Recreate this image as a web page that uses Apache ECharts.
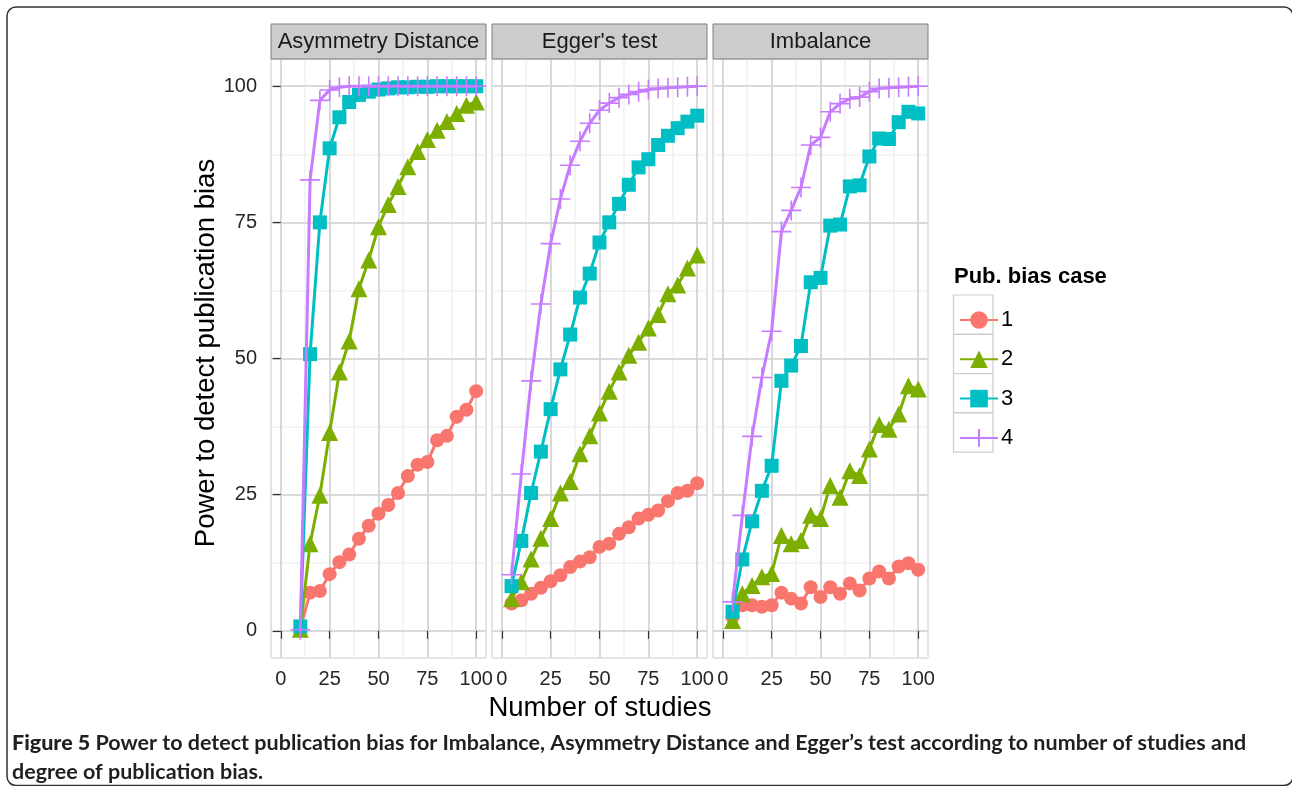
<!DOCTYPE html>
<html>
<head>
<meta charset="utf-8">
<script src="https://cdn.jsdelivr.net/npm/echarts@6/dist/echarts.min.js"></script>
<style>
html,body{margin:0;padding:0;background:#fff;}
#chart{width:1292px;height:786px;}
</style>
</head>
<body>
<div id="chart"></div>
<script>
// ---------- data ----------
const panels = ['Asymmetry Distance', "Egger's test", 'Imbalance'];
const caseNames = ['1', '2', '3', '4'];
const xTickValues = [0, 25, 50, 75, 100];
const yTickValues = [0, 25, 50, 75, 100];

const studiesAD = [10,15,20,25,30,35,40,45,50,55,60,65,70,75,80,85,90,95,100];
const studies = [5,10,15,20,25,30,35,40,45,50,55,60,65,70,75,80,85,90,95,100];

// Asymmetry Distance
const ad_case1 = [0.4,7.0,7.3,10.4,12.6,14.0,16.9,19.3,21.5,23.1,25.3,28.4,30.5,31.0,35.0,35.8,39.3,40.6,44.0];
const ad_case2 = [0.3,16.0,24.9,36.4,47.5,53.2,62.8,68.1,74.2,78.3,81.6,85.2,88.0,90.2,91.9,93.5,95.0,96.5,97.1];
const ad_case3 = [0.8,50.8,75.0,88.6,94.3,97.1,98.4,99.0,99.4,99.6,99.8,99.8,99.9,99.9,100,100,100,100,100];
const ad_case4 = [0.2,82.8,97.4,99.3,99.8,100,100,100,100,100,100,100,100,100,100,100,100,100,100];

// Egger's test
const eg_case1 = [5.0,5.6,6.8,7.9,9.1,10.2,11.7,12.7,13.5,15.4,16.0,17.8,19.0,20.6,21.3,22.1,23.8,25.3,25.7,27.1];
const eg_case2 = [5.9,9.0,13.2,17.0,20.6,25.3,27.4,32.5,35.8,40.0,44.0,47.5,50.6,53.0,55.6,58.1,61.9,63.5,66.6,69.0];
const eg_case3 = [8.2,16.5,25.3,32.9,40.7,48.0,54.4,61.2,65.6,71.3,75.0,78.4,81.9,85.1,86.6,89.2,90.9,92.3,93.5,94.6];
const eg_case4 = [10.3,28.8,45.9,60.0,71.1,79.3,85.5,89.9,93.2,95.6,96.9,97.9,98.5,99.0,99.4,99.6,99.7,99.8,99.9,100];

// Imbalance
const im_case1 = [2.5,4.7,4.7,4.4,4.7,7.0,5.9,5.0,8.0,6.2,8.0,6.8,8.7,7.4,9.6,10.9,9.6,11.8,12.4,11.2];
const im_case2 = [1.9,6.8,8.3,9.9,10.5,17.5,16.0,16.6,21.2,20.6,26.7,24.5,29.4,28.5,33.4,37.9,37.0,39.8,45.0,44.4];
const im_case3 = [3.5,13.1,20.1,25.7,30.3,45.9,48.7,52.3,64.0,64.8,74.4,74.6,81.6,81.8,87.1,90.4,90.3,93.4,95.3,95.0];
const im_case4 = [5.3,21.2,35.7,46.5,55.0,73.3,77.2,81.4,89.2,90.6,95.3,96.8,97.7,98.0,99.0,99.6,99.7,99.8,99.9,100];

const panelX = [studiesAD, studies, studies];
const panelValues = [
  [ad_case1, ad_case2, ad_case3, ad_case4],
  [eg_case1, eg_case2, eg_case3, eg_case4],
  [im_case1, im_case2, im_case3, im_case4]
];

// ---------- styling ----------
const colors = ['#F8766D', '#7CAE00', '#00BFC4', '#C77CFF'];
const symbols = ['circle', 'triangle', 'rect', 'path://M10 0 L10 20 M0 10 L20 10'];
const symbolSizes = [14, 17, 14, 20];
const gridLefts = [271, 492, 713];
const gridW = 215, gridTop = 59, gridH = 599;
const FONT = 'Liberation Sans, Arial, sans-serif';

const grids = [], xAxes = [], yAxes = [], series = [], graphics = [];

gridLefts.forEach((left, p) => {
  grids.push({left: left, top: gridTop, width: gridW, height: gridH, show: true,
    backgroundColor: '#fff', borderColor: '#7f7f7f', borderWidth: 1, containLabel: false});
  // minor gridline axes (drawn first)
  xAxes.push({type: 'value', gridIndex: p, min: -5, max: 105, minInterval: 12.5, maxInterval: 12.5,
    axisLine: {show: false}, axisTick: {show: false}, axisLabel: {show: false},
    splitLine: {show: true, lineStyle: {color: '#f1f1f1', width: 1.5}}, z: 0});
  yAxes.push({type: 'value', gridIndex: p, min: -5, max: 105, minInterval: 12.5, maxInterval: 12.5,
    axisLine: {show: false}, axisTick: {show: false}, axisLabel: {show: false},
    splitLine: {show: true, lineStyle: {color: '#f1f1f1', width: 1.5}}, z: 0});
});
gridLefts.forEach((left, p) => {
  xAxes.push({type: 'value', gridIndex: p, position: 'bottom', min: -5, max: 105, minInterval: 25, maxInterval: 25,
    axisLine: {show: false},
    axisTick: {show: true, length: 8, customValues: xTickValues, lineStyle: {color: '#333', width: 1.2}},
    axisLabel: {show: true, customValues: xTickValues, margin: 11, fontSize: 20, color: '#262626', fontFamily: FONT},
    splitLine: {show: true, lineStyle: {color: '#d2d2d2', width: 1.6}}, z: 1});
  yAxes.push({type: 'value', gridIndex: p, position: 'left', min: -5, max: 105, minInterval: 25, maxInterval: 25,
    axisLine: {show: false},
    axisTick: {show: p === 0, length: 8, customValues: yTickValues, lineStyle: {color: '#333', width: 1.2}},
    axisLabel: {show: p === 0, customValues: yTickValues, margin: 14, fontSize: 20, color: '#262626', fontFamily: FONT},
    splitLine: {show: true, lineStyle: {color: '#d2d2d2', width: 1.6}}, z: 1});
});

panels.forEach((name, p) => {
  const xs = panelX[p];
  panelValues[p].forEach((vals, c) => {
    series.push({
      name: caseNames[c], type: 'line', xAxisIndex: 3 + p, yAxisIndex: 3 + p,
      data: xs.map((x, i) => [x, vals[i]]),
      symbol: symbols[c], symbolSize: symbolSizes[c], showSymbol: true,
      lineStyle: {color: colors[c], width: 3},
      itemStyle: c === 3 ? {color: 'rgba(0,0,0,0)', borderColor: colors[c], borderWidth: 1.6}
                         : {color: colors[c], borderWidth: 0},
      emphasis: {disabled: true}, animation: false, z: 2 + c * 0.01
    });
  });
  // strip
  graphics.push({type: 'rect', shape: {x: gridLefts[p], y: 24, width: gridW, height: 35},
    style: {fill: '#cccccc', stroke: '#7f7f7f', lineWidth: 1}, z: 5});
  graphics.push({type: 'text', x: gridLefts[p] + gridW / 2, y: 42,
    style: {text: name, fontSize: 22, fontFamily: FONT, fill: '#1a1a1a', align: 'center', verticalAlign: 'middle'}, z: 6});
});

// legend key boxes
for (let i = 0; i < 4; i++) {
  graphics.push({type: 'rect', shape: {x: 953.5, y: 295 + i * 39.3, width: 39.5, height: 39.3},
    style: {fill: '#fff', stroke: '#cccccc', lineWidth: 1.2}, z: 0});
}
graphics.push({type: 'text', x: 954, y: 277,
  style: {text: 'Pub. bias case', fontSize: 22, fontWeight: 'bold', fontFamily: FONT, fill: '#000', verticalAlign: 'middle'}});
// axis titles
graphics.push({type: 'text', x: 600, y: 708,
  style: {text: 'Number of studies', fontSize: 27.5, fontFamily: FONT, fill: '#000', align: 'center', verticalAlign: 'middle'}});
graphics.push({type: 'text', x: 206, y: 353, rotation: Math.PI / 2,
  style: {text: 'Power to detect publication bias', fontSize: 27.5, fontFamily: FONT, fill: '#000', align: 'center', verticalAlign: 'middle'}});
// caption
graphics.push({type: 'text', x: 12, y: 758,
  style: {text: '{b|Figure 5} Power to detect publication bias for Imbalance, Asymmetry Distance and Egger\u2019s test according to number of studies and\ndegree of publication bias.',
    fontSize: 21.5, fontFamily: 'Lato, sans-serif', fontWeight: 'bold', fill: '#231f20', lineHeight: 29, verticalAlign: 'middle',
    rich: {b: {fontSize: 21.5, fontFamily: 'Lato, sans-serif', fontWeight: 900, fill: '#231f20', lineHeight: 29}}}});
// frame
graphics.push({type: 'rect', shape: {x: 7, y: 7, width: 1286, height: 778.5, r: 9},
  style: {fill: 'none', stroke: '#333', lineWidth: 1.5}, z: 10});

const chart = echarts.init(document.getElementById('chart'), null, {renderer: 'canvas'});
chart.setOption({
  animation: false,
  backgroundColor: '#fff',
  grid: grids, xAxis: xAxes, yAxis: yAxes, series: series,
  legend: {data: caseNames, orient: 'vertical', left: 954, top: 304, itemWidth: 38, itemHeight: 22, itemGap: 17.3,
    textStyle: {fontSize: 22, color: '#000', fontFamily: FONT, padding: [0, 0, 0, -2]}, selectedMode: false},
  graphic: graphics
});
</script>
</body>
</html>
